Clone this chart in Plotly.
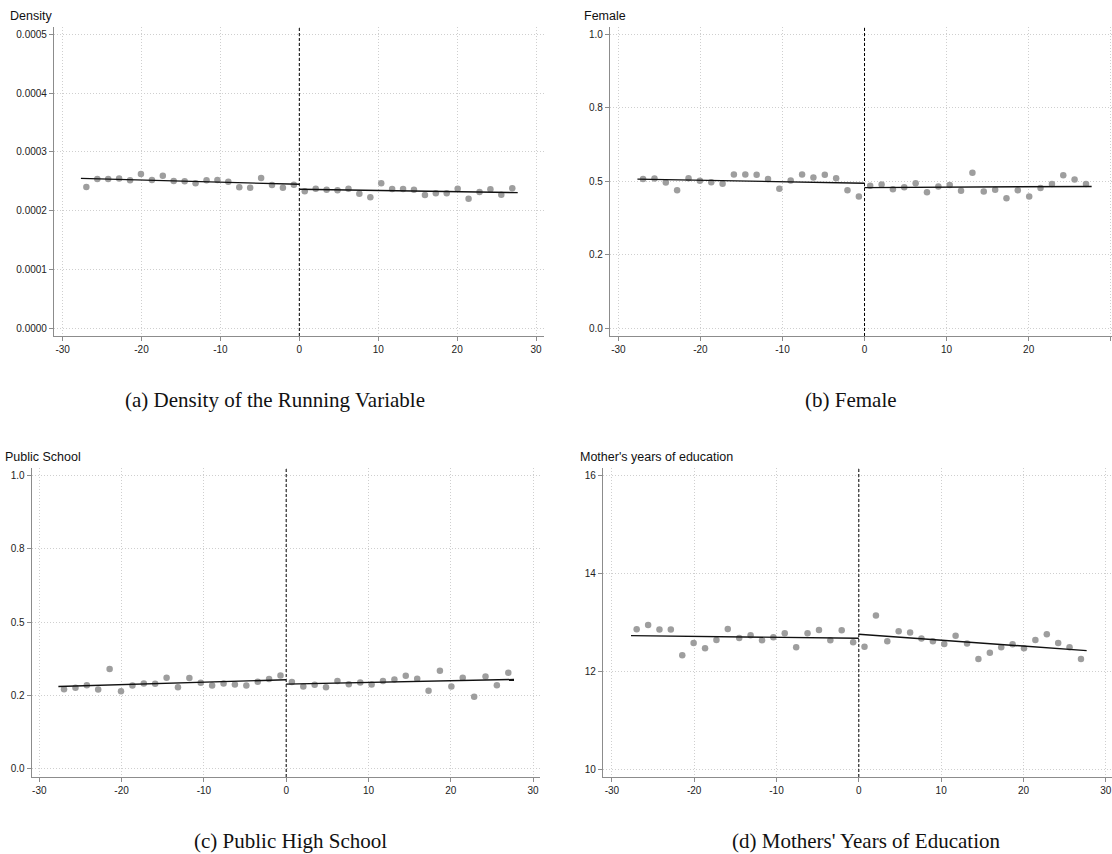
import plotly.graph_objects as go

W, H = 1112, 854

# ---- data ----
bin_x_left = [-26.99, -25.60, -24.22, -22.84, -21.45, -20.07, -18.68, -17.30, -15.92, -14.53,
              -13.15, -11.76, -10.38, -9.00, -7.61, -6.23, -4.84, -3.46, -2.08, -0.69]
bin_x_right = [0.69, 2.08, 3.46, 4.84, 6.23, 7.61, 9.00, 10.38, 11.76, 13.15,
               14.53, 15.92, 17.30, 18.68, 20.07, 21.45, 22.84, 24.22, 25.60, 26.99]
fit_x_left = [-27.68, 0.0]
fit_x_right = [0.0, 27.68]

density_left = [0.000240, 0.0002537, 0.0002537, 0.0002543, 0.0002514, 0.0002622, 0.0002520, 0.0002594,
                0.0002503, 0.0002497, 0.0002463, 0.0002514, 0.0002520, 0.0002491, 0.0002395, 0.0002389,
                0.0002554, 0.0002435, 0.0002389, 0.0002440]
density_right = [0.0002327, 0.0002372, 0.0002355, 0.0002344, 0.0002372, 0.0002287, 0.0002225, 0.0002463,
                 0.0002367, 0.0002367, 0.0002355, 0.0002264, 0.0002293, 0.0002293, 0.0002372, 0.0002202,
                 0.0002316, 0.0002361, 0.0002270, 0.0002378]
density_fit_left = [0.0002548, 0.0002446]
density_fit_right = [0.0002361, 0.0002304]

female_left = [0.507, 0.509, 0.495, 0.469, 0.510, 0.501, 0.496, 0.491, 0.523, 0.523,
               0.522, 0.507, 0.474, 0.502, 0.523, 0.512, 0.522, 0.510, 0.469, 0.448]
female_right = [0.484, 0.489, 0.472, 0.479, 0.493, 0.462, 0.482, 0.487, 0.467, 0.529,
                0.465, 0.471, 0.442, 0.469, 0.448, 0.477, 0.490, 0.520, 0.506, 0.490]
female_fit_left = [0.507, 0.493]
female_fit_right = [0.478, 0.482]

public_left = [0.2716, 0.2761, 0.2852, 0.2705, 0.3398, 0.2648, 0.2841, 0.2909, 0.2898, 0.3102,
               0.2784, 0.3091, 0.2932, 0.2841, 0.2909, 0.2875, 0.2841, 0.2966, 0.3057, 0.3182]
public_right = [0.2955, 0.2807, 0.2864, 0.2784, 0.2989, 0.2886, 0.2943, 0.2875, 0.2989, 0.3045,
                0.3170, 0.3068, 0.2659, 0.3341, 0.2807, 0.3102, 0.2455, 0.3148, 0.2852, 0.3273]
public_fit_left = [0.2807, 0.3034]
public_fit_right = [0.2886, 0.3045]

mother_left = [12.852, 12.940, 12.845, 12.845, 12.320, 12.572, 12.463, 12.634, 12.859, 12.675,
               12.729, 12.627, 12.688, 12.770, 12.484, 12.770, 12.838, 12.627, 12.831, 12.586]
mother_right = [12.497, 13.131, 12.606, 12.811, 12.784, 12.661, 12.606, 12.552, 12.722, 12.559,
                12.245, 12.375, 12.484, 12.545, 12.463, 12.634, 12.750, 12.572, 12.484, 12.245]
mother_fit_left = [12.722, 12.668]
mother_fit_right = [12.750, 12.416]

x_ticks = [-30, -20, -10, 0, 10, 20, 30]
x_ticktext = ["-30", "-20", "-10", "0", "10", "20", "30"]

density_ticks = [0, 0.0001, 0.0002, 0.0003, 0.0004, 0.0005]
density_ticktext = ["0.0000", "0.0001", "0.0002", "0.0003", "0.0004", "0.0005"]
share_ticks = [0, 0.25, 0.5, 0.75, 1.0]
share_ticktext = ["0.0", "0.2", "0.5", "0.8", "1.0"]
mother_ticks = [10, 12, 14, 16]
mother_ticktext = ["10", "12", "14", "16"]

panel_titles = ["Density", "Female", "Public School", "Mother's years of education"]
captions = ["(a) Density of the Running Variable", "(b) Female",
            "(c) Public High School", "(d) Mothers' Years of Education"]

# ---- layout geometry (pixels) ----
panels = [
    (54, 544, 27, 336, [-31.09, 31.01], [-0.0000136, 0.0005124]),
    (610, 1112, 27, 336, [-31.02, 30.16], [-0.0272, 1.0248]),
    (31.7, 540, 468, 777, [-30.92, 30.84], [-0.0273, 1.0239]),
    (603, 1112, 468, 777, [-31.08, 30.76], [9.837, 16.143]),
]
series = [
    (density_left, density_right, density_fit_left, density_fit_right, density_ticks, density_ticktext),
    (female_left, female_right, female_fit_left, female_fit_right, share_ticks, share_ticktext),
    (public_left, public_right, public_fit_left, public_fit_right, share_ticks, share_ticktext),
    (mother_left, mother_right, mother_fit_left, mother_fit_right, mother_ticks, mother_ticktext),
]

fig = go.Figure()
grid_col = "#cfcfcf"
axis_col = "#8c8c8c"
dot_col = "#9e9e9e"
tick_font = dict(family="Liberation Sans, Arial, sans-serif", size=10, color="#222222")

for i, (p, s) in enumerate(zip(panels, series)):
    n = "" if i == 0 else str(i + 1)
    xa, ya = "x" + n, "y" + n
    x0, x1, yt, yb, xr, yr = p
    left, right, fl, fr, yt_vals, yt_text = s
    for xs, ys in ((bin_x_left, left), (bin_x_right, right)):
        fig.add_trace(go.Scatter(x=xs, y=ys, mode="markers", xaxis=xa, yaxis=ya,
                                 marker=dict(color=dot_col, size=6.5, line=dict(width=0)),
                                 showlegend=False, hoverinfo="skip"))
    for xs, ys in ((fit_x_left, fl), (fit_x_right, fr)):
        fig.add_trace(go.Scatter(x=xs, y=ys, mode="lines", xaxis=xa, yaxis=ya,
                                 line=dict(color="#111111", width=1.4),
                                 showlegend=False, hoverinfo="skip"))
    common = dict(showline=True, linecolor=axis_col, linewidth=1.2, ticks="outside",
                  ticklen=4, tickcolor=axis_col, tickwidth=1, showgrid=True,
                  gridcolor=grid_col, gridwidth=1, griddash="1px,2px", zeroline=False,
                  tickfont=tick_font, fixedrange=True)
    fig.layout["xaxis" + n] = dict(domain=[x0 / W, x1 / W], range=xr, anchor=ya,
                                   tickmode="array", tickvals=x_ticks, ticktext=x_ticktext,
                                   **common)
    fig.layout["yaxis" + n] = dict(domain=[1 - yb / H, 1 - yt / H], range=yr, anchor=xa,
                                   tickmode="array", tickvals=yt_vals, ticktext=yt_text,
                                   **common)
    fig.add_shape(type="line", xref=xa, yref=ya + " domain", x0=0, x1=0, y0=0, y1=1,
                  line=dict(color="black", width=1, dash="3px,2px"))

title_pos = [(8, 16), (582, 16), (3, 457), (578, 457)]
for t, (tx, ty) in zip(panel_titles, title_pos):
    fig.add_annotation(text=t, xref="paper", yref="paper", x=tx / W, y=1 - ty / H,
                       xanchor="left", yanchor="middle", showarrow=False,
                       font=dict(family="Liberation Sans, Arial, sans-serif", size=12.5, color="#111111"))

cap_pos = [(275, 400), (851, 400), (290, 841), (866, 841)]
for c, (cx, cy) in zip(captions, cap_pos):
    fig.add_annotation(text=c, xref="paper", yref="paper", x=cx / W, y=1 - cy / H,
                       xanchor="center", yanchor="middle", showarrow=False,
                       font=dict(family="Liberation Serif, DejaVu Serif, serif", size=21, color="#111111"))

fig.update_layout(width=W, height=H, margin=dict(l=0, r=0, t=0, b=0),
                  plot_bgcolor="white", paper_bgcolor="white", showlegend=False)

fig.write_html("out.html", config={"displayModeBar": False})
